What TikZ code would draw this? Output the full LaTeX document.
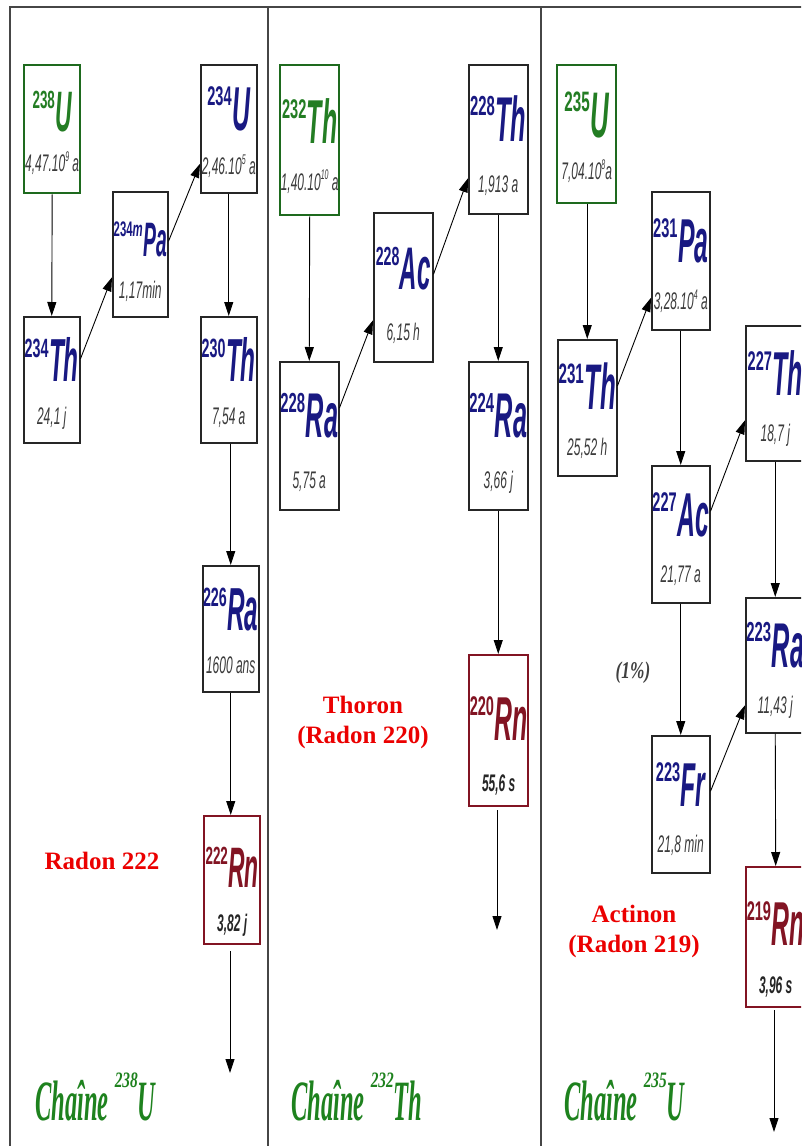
\documentclass[tikz,border=0pt]{standalone}
\usepackage{fontspec}
\usetikzlibrary{arrows.meta}
\newfontfamily\arialf{Liberation Sans}
\newfontfamily\timesf{Liberation Serif}
\definecolor{navy}{RGB}{25,25,130}
\definecolor{isogreen}{RGB}{35,125,35}
\definecolor{rnred}{RGB}{130,20,35}
\definecolor{hlgray}{RGB}{60,60,60}
\definecolor{lblred}{RGB}{235,0,0}
\definecolor{chgreen}{RGB}{30,130,30}
\definecolor{framegray}{RGB}{70,70,70}
\newcommand\sups[1]{\raisebox{0.42em}{\fontsize{14}{14}\selectfont #1}}
\newcommand\iso[3][1]{\scalebox{#1}{\bfseries\scalebox{0.54}[1]{\fontsize{27}{27}\selectfont\raisebox{25pt}{#2}}\kern0.5pt\scalebox{0.4}[1]{\fontsize{62}{62}\selectfont\itshape #3}}}
\newcommand\chaine[2]{\scalebox{0.43}[1]{Cha\^ine}\kern6pt\raisebox{33pt}{\scalebox{0.7}[1]{\fontsize{22}{22}\selectfont #1}}\scalebox{0.43}[1]{#2}}
\newcommand\sfstd{0.52}\newcommand\hfstd{0.86}
\newcommand\sfpar{0.53}\newcommand\hfpar{0.84}
\newcommand\sfrn{0.57}\newcommand\hfrn{0.91}
\tikzset{
  box std/.style={draw=black!85, line width=1.5pt, fill=white},
  box par/.style={draw=isogreen!85!black, line width=2.4pt, fill=white},
  box rn/.style={draw=rnred, line width=2.4pt, fill=white},
  symtxt/.style={inner sep=0pt, font=\arialf},
  sym std/.style={symtxt, text=navy},
  sym par/.style={symtxt, text=isogreen},
  sym rn/.style={symtxt, text=rnred},
  hltxt/.style={inner sep=0pt, font=\arialf\itshape\fontsize{24}{24}\selectfont},
  hl std/.style={hltxt, text=hlgray},
  hl par/.style={hltxt, text=hlgray},
  hl rn/.style={hltxt, text=black!85, font=\arialf\bfseries\itshape\fontsize{24}{24}\selectfont},
  arr/.style={-{Triangle[length=14pt,width=9pt]}, line width=0.9pt, black},
  lbl/.style={font=\timesf\bfseries\fontsize{25}{30}\selectfont, text=lblred, align=center, inner sep=0pt},
  chain/.style={font=\timesf\bfseries\itshape\fontsize{57}{57}\selectfont, text=chgreen, anchor=base west, inner sep=0pt},
}
\newcommand\isobox[8]{%
 \node[box #6, anchor=north west, minimum width=#4pt, minimum height=#5pt, inner sep=0pt] (#1) at (#2,#3) {};
 \node[sym #6, anchor=base] (#1s) at ([yshift={-\csname sf#6\endcsname*#5pt}]#1.north) {#7};
 \node[hl #6, anchor=base] (#1h) at ([yshift={-\csname hf#6\endcsname*#5pt}]#1.north) {\scalebox{0.5}[1]{#8}};
}
\begin{document}
\begin{tikzpicture}[x=1pt,y=-1pt]
\useasboundingbox (0,0) rectangle (801,1146);
\clip (0,0) rectangle (801,1146);
\fill[white] (0,0) rectangle (801,1146);
% frame
\draw[framegray, line width=1.2pt] (10,1150) -- (10,7) -- (805,7);
\draw[framegray, line width=1.2pt] (268,7) -- (268,1150);
\draw[framegray, line width=1.2pt] (541,7) -- (541,1150);
% column 1
\isobox{U238}{23}{64}{56}{128}{par}{\iso[0.92]{238}{U}}{4,47.10\sups{9} a}
\isobox{Pa234}{112}{191}{55}{125}{std}{\iso[0.78]{234\textit{m}}{Pa}}{1,17min}
\isobox{U234}{200}{64}{56}{128}{std}{\iso{234}{U}}{2,46.10\sups{5} a}
\isobox{Th234}{23}{316}{56}{126}{std}{\iso[0.98]{234}{Th}}{24,1 j}
\isobox{Th230}{200}{316}{56}{126}{std}{\iso[0.98]{230}{Th}}{7,54 a}
\isobox{Ra226}{202}{565}{56}{126}{std}{\iso[0.98]{226}{Ra}}{1600 ans}
\isobox{Rn222}{203}{815}{56}{128}{rn}{\iso[0.92]{222}{Rn}}{3,82 j}
% column 2
\isobox{Th232}{279}{64}{59}{150}{par}{\iso{232}{Th}}{1,40.10\sups{10} a}
\isobox{Ac228}{373}{212}{59}{149}{std}{\iso[0.97]{228}{Ac}}{6,15 h}
\isobox{Th228}{468}{64}{59}{149}{std}{\iso[1.02]{228}{Th}}{1,913 a}
\isobox{Ra228}{279}{361}{59}{148}{std}{\iso[1.02]{228}{Ra}}{5,75 a}
\isobox{Ra224}{468}{361}{59}{148}{std}{\iso[1.02]{224}{Ra}}{3,66 j}
\isobox{Rn220}{468}{654}{59}{151}{rn}{\iso{220}{Rn}}{55,6 s}
% column 3
\isobox{U235}{556}{64}{59}{138}{par}{\iso[1.04]{235}{U}}{7,04.10\sups{8}a}
\isobox{Pa231}{651}{191}{58}{138}{std}{\iso{231}{Pa}}{3,28.10\sups{4} a}
\isobox{Th231}{557}{339}{59}{136}{std}{\iso[1.04]{231}{Th}}{25,52 h}
\isobox{Ac227}{651}{465}{58}{137}{std}{\iso{227}{Ac}}{21,77 a}
\isobox{Th227}{745}{325}{59}{135}{std}{\iso{227}{Th}}{18,7 j}
\isobox{Ra223}{745}{597}{59}{135}{std}{\iso[1.02]{223}{Ra}}{11,43 j}
\isobox{Fr223}{651}{735}{58}{137}{std}{\iso{223}{Fr}}{21,8 min}
\isobox{Rn219}{745}{866}{59}{140}{rn}{\iso{219}{Rn}}{3,96 s}
% free ends
\coordinate (e1) at (230,1073);
\coordinate (e2) at (497,930);
\coordinate (e3) at (774,1132);
% arrows column 1
\draw[arr] (U238.south) -- (Th234.north);
\draw[arr] ([yshift=21pt]Th234.east) -- ([yshift=-23pt]Pa234.west);
\draw[arr] ([yshift=13pt]Pa234.east) -- ([yshift=-35pt]U234.west);
\draw[arr] (U234.south) -- (Th230.north);
\draw[arr] (Th230.south -| Ra226.north) -- (Ra226.north);
\draw[arr] (Ra226.south) -- (Rn222.north -| Ra226.south);
\draw[arr, shorten <=6pt] (Rn222.south -| e1) -- (e1);
% arrows column 2
\draw[arr] (Th232.south) -- (Ra228.north);
\draw[arr] ([yshift=28pt]Ra228.east) -- ([yshift=-33pt]Ac228.west);
\draw[arr] ([yshift=13pt]Ac228.east) -- ([yshift=-39pt]Th228.west);
\draw[arr] (Th228.south) -- (Ra224.north);
\draw[arr] (Ra224.south) -- (Rn220.north -| Ra224.south);
\draw[arr, shorten <=3pt] (Rn220.south -| e2) -- (e2);
% arrows column 3
\draw[arr] (U235.south -| Th231.north) -- (Th231.north);
\draw[arr] ([yshift=22pt]Th231.east) -- ([yshift=-37pt]Pa231.west);
\draw[arr] (Pa231.south) -- (Ac227.north);
\draw[arr] ([yshift=23pt]Ac227.east) -- ([yshift=-27pt]Th227.west);
\draw[arr] (Th227.south) -- (Ra223.north);
\draw[arr] (Ac227.south) -- (Fr223.north);
\draw[arr] ([yshift=13pt]Fr223.east) -- ([yshift=-40pt]Ra223.west);
\draw[arr] (Ra223.south) -- (Rn219.north);
\draw[arr, shorten <=2pt] (Rn219.south -| e3) -- (e3);
% labels
\node[lbl] (r222) at (102,861) {Radon 222};
\node[lbl] (r220) at (363,722) {Thoron\\(Radon 220)};
\node[lbl] (r219) at (634,931) {Actinon\\(Radon 219)};
\node[inner sep=0pt, font=\timesf\bfseries\itshape\fontsize{24}{24}\selectfont, text=black!75] (pct) at (633,673) {\scalebox{0.72}[1]{(1\%)}};
\node[chain] (c238) at (35,1120) {\chaine{238}{U}};
\node[chain] (c232) at (291,1120) {\chaine{232}{Th}};
\node[chain] (c235) at (564,1120) {\chaine{235}{U}};
\end{tikzpicture}
\end{document}
